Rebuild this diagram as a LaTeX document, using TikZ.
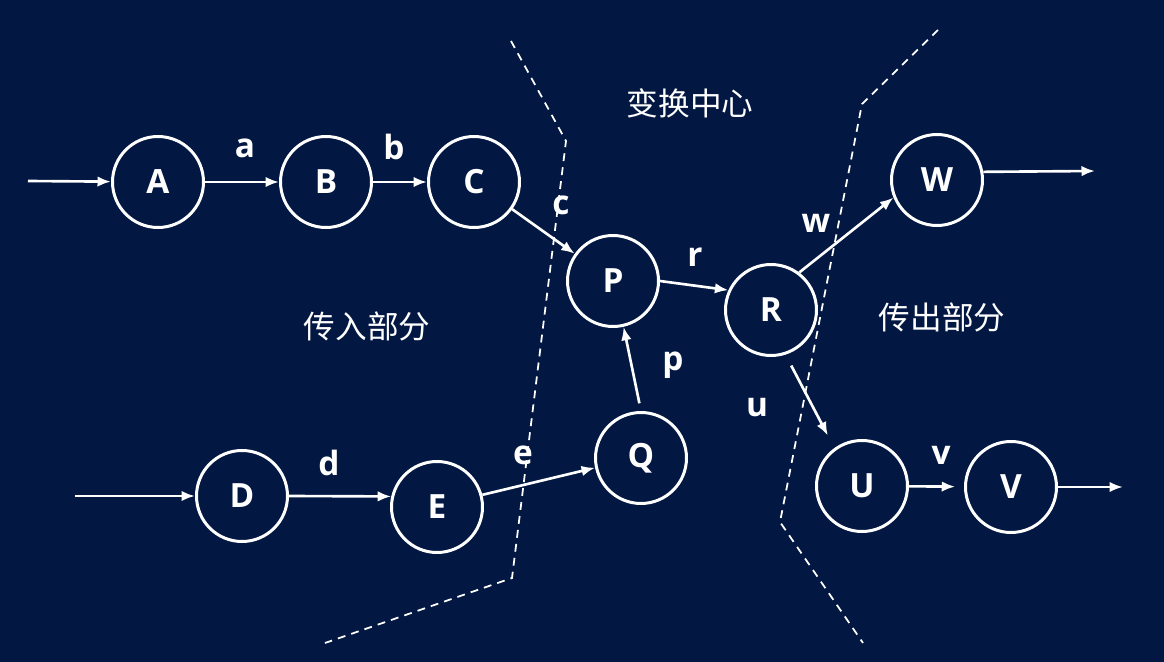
\documentclass[tikz,border=0pt]{standalone}
\usepackage{fontspec}
\setmainfont{Open Sans}
\newfontfamily\cjk{Noto Sans CJK SC}
\usetikzlibrary{arrows.meta}
\definecolor{DeepNavy}{RGB}{2,24,66}
\tikzset{
  >=Latex,
  state/.style={circle,draw=white,line width=1.7pt,minimum size=1.82cm,inner sep=0pt,text=white,font=\bfseries\fontsize{19}{22}\selectfont},
  tag/.style={text=white,inner sep=0pt,font=\bfseries\fontsize{19}{22}\selectfont},
  zone/.style={text=white,inner sep=0pt,font=\cjk\fontsize{18}{21}\selectfont},
  flow/.style={-{Latex[length=2.7mm,width=2.1mm]},line width=1.5pt,draw=white},
  border/.style={draw=white,line width=1pt,dash pattern=on 4.5pt off 3.5pt}
}
\begin{document}
\begin{tikzpicture}[x=0.02cm,y=-0.02cm]
  \fill[DeepNavy] (0,0) rectangle (1164,662);
  \useasboundingbox (0,0) rectangle (1164,662);
  \draw[border] (511,41) -- (566,141) -- (512,578) -- (325,643);
  \draw[border] (938,30) -- (862,104) -- (780,522) -- (863,643);
  \node[zone] (mid) at (690,103) {变换中心};
  \node[zone] (inpart) at (367,326) {传入部分};
  \node[zone] (outpart) at (942,317) {传出部分};
  \node[state] (A) at (158,182) {A};
  \node[state] (B) at (326,182) {B};
  \node[state] (C) at (474,182) {C};
  \node[state] (P) at (613,281) {P};
  \node[state] (R) at (771,310) {R};
  \node[state] (W) at (937,180) {W};
  \node[state] (U) at (862,486) {U};
  \node[state] (V) at (1011,487) {V};
  \node[state] (D) at (242,496) {D};
  \node[state] (E) at (437,507) {E};
  \node[state] (Q) at (641,458) {Q};
  \coordinate (Ain) at (28,181);
  \coordinate (Din) at (75,496);
  \coordinate (Wout) at (1095,171);
  \coordinate (Vout) at (1123,487);
  \draw[flow] (Ain) -- (A);
  \draw[flow] (A) -- (B);
  \draw[flow] (B) -- (C);
  \draw[flow] (C) -- (P);
  \draw[flow] (P.east) -- (R.155);
  \draw[flow,shorten <=4.5pt] (Q.north) -- (P.-77);
  \draw[flow] (R.53) -- (W.202);
  \draw[flow,shorten <=7pt,shorten >=8pt] (R.-72) -- (U.126);
  \draw[flow,shorten >=5pt] (U) -- (V);
  \draw[flow] (W.10) -- (Wout);
  \draw[flow] (V) -- (Vout);
  \draw[flow] (Din) -- (D);
  \draw[flow] (D.east) -- (E.167);
  \draw[flow] (E.15) -- (Q.192);
  \node[tag] (la) at (245,148) {a};
  \node[tag] (lb) at (394,147) {b};
  \node[tag] (lc) at (561,205) {c};
  \node[tag] (lr) at (695,257) {r};
  \node[tag] (lp) at (673,365) {p};
  \node[tag] (lw) at (816,223) {w};
  \node[tag] (lu) at (757,408) {u};
  \node[tag] (lv) at (941,455) {v};
  \node[tag] (ld) at (329,463) {d};
  \node[tag] (le) at (523,455) {e};
\end{tikzpicture}
\end{document}
